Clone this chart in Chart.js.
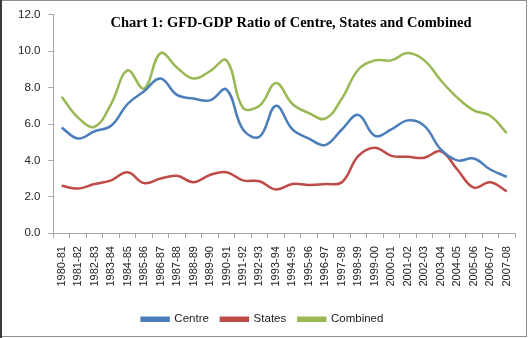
<!DOCTYPE html>
<html>
<head>
<meta charset="utf-8">
<script src="https://cdn.jsdelivr.net/npm/chart.js@4.4.1/dist/chart.umd.min.js"></script>
<style>
  html, body { margin: 0; padding: 0; background: #fff; }
  #wrap { width: 529px; height: 338px; }
</style>
</head>
<body>
<div id="wrap"><canvas id="gfd-chart" width="529" height="338"></canvas></div>
<script>
// Años fiscales del eje X
const years = ['1980-81', '1981-82', '1982-83', '1983-84', '1984-85', '1985-86', '1986-87',
    '1987-88', '1988-89', '1989-90', '1990-91', '1991-92', '1992-93', '1993-94', '1994-95',
    '1995-96', '1996-97', '1997-98', '1998-99', '1999-00', '2000-01', '2001-02', '2002-03',
    '2003-04', '2004-05', '2005-06', '2006-07', '2007-08'];

// Ratio GFD-GDP (%) por serie
const centre = [5.8, 5.2, 5.6, 5.9, 7.1, 7.8, 8.5, 7.6, 7.4, 7.3, 7.9, 5.7, 5.3, 7.0,
    5.7, 5.2, 4.85, 5.7, 6.5, 5.35, 5.7, 6.2, 5.9, 4.6, 4.0, 4.1, 3.5, 3.1];
const states = [2.6, 2.45, 2.7, 2.9, 3.35, 2.75, 3.0, 3.15, 2.8, 3.2, 3.35, 2.9, 2.85, 2.4,
    2.7, 2.65, 2.7, 2.8, 4.25, 4.7, 4.25, 4.2, 4.15, 4.5, 3.5, 2.5, 2.8, 2.3];
const combined = [7.5, 6.35, 5.85, 7.1, 8.95, 7.95, 9.9, 9.1, 8.5, 8.9, 9.5, 6.9, 7.0, 8.25,
    7.1, 6.6, 6.3, 7.4, 9.0, 9.5, 9.5, 9.9, 9.5, 8.4, 7.45, 6.75, 6.45, 5.5];

const yTicks = [0, 2, 4, 6, 8, 10, 12];
const chartTitle = 'Chart 1: GFD-GDP Ratio of Centre, States and Combined';

const axisColor = '#a6a6a6';

// Fondo blanco, marco y título sobre el área del gráfico
const framePlugin = {
    id: 'frame',
    beforeDraw(chart) {
        const ctx = chart.ctx;
        ctx.save();
        ctx.fillStyle = '#fff';
        ctx.fillRect(0, 0, chart.width, chart.height);
        ctx.restore();
    },
    afterDraw(chart) {
        const ctx = chart.ctx;
        ctx.save();
        ctx.fillStyle = '#000';
        ctx.font = 'bold 14.5px "Liberation Serif", "Times New Roman", serif';
        ctx.textAlign = 'center';
        ctx.textBaseline = 'middle';
        ctx.fillText(chartTitle, 291, 23);

        ctx.strokeStyle = '#8c8c8c';
        ctx.lineWidth = 1;
        ctx.strokeRect(0.5, 0.5, chart.width - 3, chart.height - 2);
        ctx.strokeStyle = '#3a3a3a';
        ctx.lineWidth = 2;
        ctx.beginPath();
        ctx.moveTo(1, 0);
        ctx.lineTo(1, chart.height);
        ctx.stroke();
        ctx.restore();
    }
};

function serie(label, data, color) {
    return {
        label: label,
        data: data,
        borderColor: color,
        backgroundColor: color,
        borderWidth: 2.5,
        pointRadius: 0,
        pointHoverRadius: 0,
        tension: 0.4,
        fill: false
    };
}

const ctx = document.getElementById('gfd-chart').getContext('2d');
new Chart(ctx, {
    type: 'line',
    data: {
        labels: years,
        datasets: [
            serie('Centre', centre, '#4a7ebb'),
            serie('States', states, '#be4b48'),
            serie('Combined', combined, '#98b954')
        ]
    },
    options: {
        responsive: false,
        animation: false,
        layout: {
            padding: { top: 8, right: 14, bottom: 3, left: 10 }
        },
        scales: {
            x: {
                offset: true,
                grid: {
                    offset: true,
                    drawOnChartArea: false,
                    color: axisColor,
                    tickLength: 5
                },
                border: { color: axisColor },
                ticks: {
                    autoSkip: false,
                    maxRotation: 90,
                    minRotation: 90,
                    padding: 8,
                    color: '#222',
                    font: { family: '"Liberation Sans", Arial, sans-serif', size: 11 }
                },
                // espacio extra entre las etiquetas y la leyenda
                afterFit(axis) {
                    axis.height += 7;
                }
            },
            y: {
                min: 0,
                max: 12,
                afterBuildTicks(axis) {
                    axis.ticks = yTicks.map(v => ({ value: v }));
                },
                grid: {
                    drawOnChartArea: false,
                    color: axisColor,
                    tickLength: 5
                },
                border: { color: axisColor },
                ticks: {
                    padding: 8,
                    color: '#222',
                    font: { family: '"Liberation Sans", Arial, sans-serif', size: 11.5 },
                    callback: v => Number(v).toFixed(1)
                }
            }
        },
        plugins: {
            legend: {
                position: 'bottom',
                labels: {
                    boxWidth: 27,
                    boxHeight: 3,
                    padding: 12,
                    color: '#222',
                    font: { family: '"Liberation Sans", Arial, sans-serif', size: 11.5 }
                }
            },
            tooltip: { enabled: false }
        }
    },
    plugins: [framePlugin]
});
</script>
</body>
</html>
